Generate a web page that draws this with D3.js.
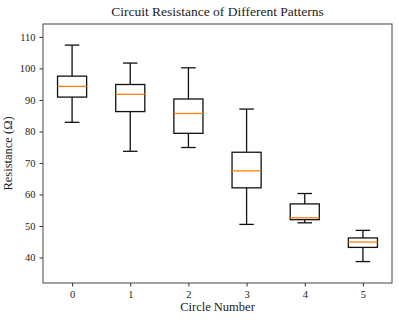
<!DOCTYPE html>
<html>
<head>
<meta charset="utf-8">
<script src="https://cdn.jsdelivr.net/npm/d3@7"></script>
<style>
  body { margin: 0; background: #fff; }
  text { font-family: "Liberation Serif", "DejaVu Serif", serif; fill: #222; }
</style>
</head>
<body>
<div id="chart"></div>
<script>
// box stats, one entry per circle
const circles = ["0", "1", "2", "3", "4", "5"];
const whiskerLow = [82.9, 73.7, 74.9, 50.5, 51.0, 38.7];
const q1 = [90.9, 86.3, 79.4, 62.1, 52.0, 43.2];
const medians = [94.3, 91.8, 85.7, 67.5, 52.6, 44.9];
const q3 = [97.55, 94.9, 90.3, 73.4, 57.0, 46.2];
const whiskerHigh = [107.4, 101.7, 100.2, 87.1, 60.3, 48.6];
const yTicks = [40, 50, 60, 70, 80, 90, 100, 110];

const W = 399, H = 320;
const margin = { top: 24, right: 7, bottom: 37, left: 43 };
const width = W - margin.left - margin.right;
const height = H - margin.top - margin.bottom;

const svg = d3.select("#chart").append("svg")
  .attr("width", W).attr("height", H);

const g = svg.append("g")
  .attr("transform", `translate(${margin.left},${margin.top})`);

// positions 1..6 like matplotlib, xlim 0.5..6.5
const x = d3.scaleLinear().domain([0.5, 6.5]).range([0, width]);
const y = d3.scaleLinear().domain([31.9, 114.1]).range([height, 0]);

const boxes = circles.map((c, i) => ({
  label: c, pos: i + 1,
  lo: whiskerLow[i], q1: q1[i], med: medians[i], q3: q3[i], hi: whiskerHigh[i]
}));

const boxW = x(1.25) - x(0.75);
const capW = boxW / 2;

const b = g.selectAll("g.box").data(boxes).join("g").attr("class", "box");

// whiskers
b.append("line")
  .attr("x1", d => x(d.pos)).attr("x2", d => x(d.pos))
  .attr("y1", d => y(d.q3)).attr("y2", d => y(d.hi))
  .attr("stroke", "#111").attr("stroke-width", 1.3);
b.append("line")
  .attr("x1", d => x(d.pos)).attr("x2", d => x(d.pos))
  .attr("y1", d => y(d.q1)).attr("y2", d => y(d.lo))
  .attr("stroke", "#111").attr("stroke-width", 1.3);
// caps
b.append("line")
  .attr("x1", d => x(d.pos) - capW / 2).attr("x2", d => x(d.pos) + capW / 2)
  .attr("y1", d => y(d.hi)).attr("y2", d => y(d.hi))
  .attr("stroke", "#111").attr("stroke-width", 1.3);
b.append("line")
  .attr("x1", d => x(d.pos) - capW / 2).attr("x2", d => x(d.pos) + capW / 2)
  .attr("y1", d => y(d.lo)).attr("y2", d => y(d.lo))
  .attr("stroke", "#111").attr("stroke-width", 1.3);
// box
b.append("rect")
  .attr("x", d => x(d.pos) - boxW / 2)
  .attr("y", d => y(d.q3))
  .attr("width", boxW)
  .attr("height", d => y(d.q1) - y(d.q3))
  .attr("fill", "none").attr("stroke", "#111").attr("stroke-width", 1.3);
// median
b.append("line")
  .attr("x1", d => x(d.pos) - boxW / 2).attr("x2", d => x(d.pos) + boxW / 2)
  .attr("y1", d => y(d.med)).attr("y2", d => y(d.med))
  .attr("stroke", "#ff7f0e").attr("stroke-width", 1.3);

// axes
const xAxis = g.append("g")
  .attr("transform", `translate(0,${height})`)
  .call(d3.axisBottom(x).tickValues(boxes.map(d => d.pos))
    .tickFormat((d, i) => circles[i]).tickSizeOuter(0).tickSize(3.5).tickPadding(4));
const yAxis = g.append("g")
  .call(d3.axisLeft(y).tickValues(yTicks).tickSizeOuter(0).tickSize(3.5).tickPadding(4));

[xAxis, yAxis].forEach(a => {
  a.select(".domain").remove();
  a.selectAll("line").attr("stroke", "#333");
  a.selectAll("text").attr("font-size", 10.5).attr("fill", "#222")
    .attr("font-family", "Liberation Serif, serif");
});

// frame
g.append("rect")
  .attr("width", width).attr("height", height)
  .attr("fill", "none").attr("stroke", "#444").attr("stroke-width", 1);

svg.append("text")
  .attr("x", margin.left + width / 2).attr("y", 16)
  .attr("text-anchor", "middle").attr("font-size", 13.5)
  .text("Circuit Resistance of Different Patterns");

svg.append("text")
  .attr("x", margin.left + width / 2).attr("y", 311)
  .attr("text-anchor", "middle").attr("font-size", 12.5)
  .text("Circle Number");

svg.append("text")
  .attr("transform", `translate(12,${margin.top + height / 2}) rotate(-90)`)
  .attr("text-anchor", "middle").attr("font-size", 12.5)
  .text("Resistance (Ω)");
</script>
</body>
</html>
